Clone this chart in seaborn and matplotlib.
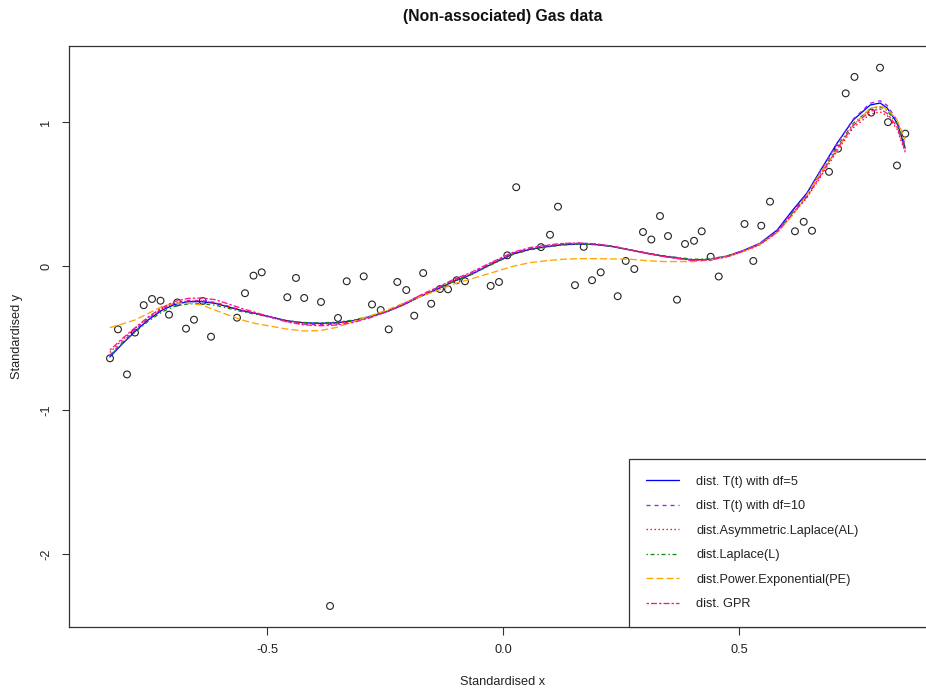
import matplotlib
matplotlib.use("Agg")
import matplotlib.pyplot as plt
import seaborn as sns
import numpy as np
import pandas as pd

# ---------------- data ----------------
obs_x = [-0.8326, -0.8157, -0.7966, -0.7797, -0.7612, -0.7436, -0.7256, -0.7076, -0.6900, -0.6716,
         -0.6547, -0.6362, -0.6186, -0.5636, -0.5466, -0.5286, -0.5112, -0.4570, -0.4386, -0.4212,
         -0.3856, -0.3665, -0.3496, -0.3311, -0.2951, -0.2775, -0.2591, -0.2422, -0.2239, -0.2049,
         -0.1881, -0.1691, -0.1521, -0.1335, -0.1165, -0.0981, -0.0805, -0.0261, -0.0085, 0.0091,
         0.0280, 0.0805, 0.0996, 0.1165, 0.1525, 0.1710, 0.1886, 0.2070, 0.2430, 0.2600,
         0.2782, 0.2966, 0.3142, 0.3326, 0.3496, 0.3686, 0.3856, 0.4047, 0.4210, 0.4400,
         0.4570, 0.5117, 0.5303, 0.5472, 0.5657, 0.6186, 0.6371, 0.6547, 0.6907, 0.7097,
         0.7261, 0.7447, 0.7801, 0.7987, 0.8157, 0.8347, 0.8523]
obs_y = [-0.641, -0.440, -0.753, -0.462, -0.272, -0.229, -0.241, -0.338, -0.253, -0.435,
         -0.373, -0.243, -0.491, -0.359, -0.189, -0.067, -0.044, -0.217, -0.083, -0.222,
         -0.250, -2.361, -0.361, -0.106, -0.072, -0.267, -0.306, -0.440, -0.111, -0.167,
         -0.345, -0.049, -0.262, -0.160, -0.162, -0.099, -0.106, -0.138, -0.111, 0.074,
         0.547, 0.131, 0.217, 0.412, -0.133, 0.133, -0.099, -0.044, -0.210, 0.035,
         -0.021, 0.236, 0.184, 0.347, 0.208, -0.234, 0.153, 0.175, 0.241, 0.064,
         -0.073, 0.292, 0.035, 0.280, 0.447, 0.241, 0.307, 0.245, 0.654, 0.815,
         1.199, 1.313, 1.065, 1.377, 0.999, 0.698, 0.919]

fit_x = [-0.833, -0.807, -0.780, -0.752, -0.722, -0.695, -0.667, -0.638, -0.610, -0.583,
         -0.553, -0.525, -0.494, -0.458, -0.424, -0.388, -0.352, -0.318, -0.282, -0.246,
         -0.212, -0.176, -0.140, -0.106, -0.070, -0.028, 0.021, 0.057, 0.093, 0.127,
         0.163, 0.199, 0.233, 0.269, 0.305, 0.339, 0.375, 0.403, 0.439, 0.475,
         0.508, 0.544, 0.581, 0.614, 0.644, 0.672, 0.708, 0.742, 0.778, 0.799,
         0.814, 0.835, 0.852]

fit_t5 = [-0.632, -0.542, -0.456, -0.375, -0.306, -0.266, -0.248, -0.248, -0.259, -0.283,
          -0.310, -0.329, -0.352, -0.380, -0.394, -0.398, -0.394, -0.380, -0.352, -0.317,
          -0.271, -0.213, -0.162, -0.109, -0.063, 0.007, 0.083, 0.116, 0.134, 0.148,
          0.153, 0.148, 0.134, 0.111, 0.088, 0.069, 0.053, 0.042, 0.046, 0.069,
          0.106, 0.157, 0.250, 0.389, 0.507, 0.660, 0.854, 1.014, 1.118, 1.132,
          1.097, 0.993, 0.819]
fit_t10 = [-0.620, -0.530, -0.445, -0.365, -0.298, -0.258, -0.240, -0.240, -0.253, -0.278,
           -0.307, -0.330, -0.356, -0.386, -0.403, -0.408, -0.403, -0.386, -0.354, -0.314,
           -0.265, -0.205, -0.152, -0.100, -0.053, 0.015, 0.090, 0.123, 0.142, 0.155,
           0.158, 0.152, 0.137, 0.113, 0.089, 0.069, 0.052, 0.041, 0.045, 0.068,
           0.105, 0.155, 0.245, 0.380, 0.500, 0.655, 0.850, 1.020, 1.130, 1.148,
           1.115, 1.010, 0.840]
fit_al = [-0.600, -0.515, -0.435, -0.360, -0.295, -0.258, -0.242, -0.243, -0.256, -0.281,
          -0.308, -0.328, -0.352, -0.382, -0.397, -0.402, -0.398, -0.383, -0.354, -0.317,
          -0.270, -0.212, -0.160, -0.106, -0.060, 0.010, 0.085, 0.118, 0.136, 0.150,
          0.155, 0.150, 0.136, 0.112, 0.088, 0.068, 0.051, 0.040, 0.043, 0.064,
          0.098, 0.147, 0.232, 0.360, 0.475, 0.615, 0.800, 0.960, 1.055, 1.070,
          1.045, 0.950, 0.790]
fit_l = [-0.625, -0.540, -0.460, -0.385, -0.318, -0.280, -0.263, -0.262, -0.272, -0.293,
         -0.317, -0.334, -0.355, -0.380, -0.392, -0.395, -0.390, -0.376, -0.349, -0.314,
         -0.269, -0.213, -0.163, -0.110, -0.064, 0.004, 0.080, 0.113, 0.132, 0.146,
         0.152, 0.148, 0.135, 0.113, 0.091, 0.072, 0.057, 0.047, 0.050, 0.070,
         0.104, 0.152, 0.240, 0.372, 0.490, 0.640, 0.830, 0.990, 1.090, 1.105,
         1.080, 0.985, 0.830]
fit_pe = [-0.428, -0.403, -0.375, -0.330, -0.281, -0.259, -0.259, -0.271, -0.306, -0.340,
          -0.375, -0.399, -0.417, -0.438, -0.451, -0.449, -0.426, -0.387, -0.347, -0.306,
          -0.259, -0.213, -0.172, -0.127, -0.092, -0.051, -0.002, 0.023, 0.037, 0.047,
          0.051, 0.051, 0.049, 0.047, 0.037, 0.031, 0.031, 0.030, 0.042, 0.065,
          0.099, 0.153, 0.233, 0.354, 0.493, 0.644, 0.806, 0.979, 1.095, 1.111,
          1.090, 1.014, 0.875]
fit_gpr = [-0.585, -0.505, -0.430, -0.355, -0.288, -0.245, -0.225, -0.222, -0.234, -0.262,
           -0.295, -0.322, -0.353, -0.388, -0.408, -0.415, -0.410, -0.393, -0.360, -0.318,
           -0.267, -0.204, -0.150, -0.095, -0.048, 0.020, 0.095, 0.128, 0.145, 0.157,
           0.160, 0.153, 0.137, 0.112, 0.087, 0.066, 0.049, 0.038, 0.042, 0.065,
           0.102, 0.150, 0.236, 0.365, 0.480, 0.625, 0.815, 0.975, 1.075, 1.090,
           1.060, 0.965, 0.800]

labels = ["dist. T(t) with df=5", "dist. T(t) with df=10", "dist.Asymmetric.Laplace(AL)",
          "dist.Laplace(L)", "dist.Power.Exponential(PE)", "dist. GPR"]
series = [fit_t5, fit_t10, fit_al, fit_l, fit_pe, fit_gpr]
colors = ["#0000FF", "#A020F0", "#FF0000", "#138A13", "#FFA500", "#FF1493"]
px = 0.72  # one pixel in points at 100 dpi
styles = ["-", (0, (4 * px, 4 * px)), (0, (1.4 * px, 2.6 * px)),
          (0, (1.4 * px, 2.6 * px, 4 * px, 3 * px)), (0, (7 * px, 3 * px)),
          (0, (2.5 * px, 2 * px, 6 * px, 2 * px))]

x_ticks = [-0.5, 0.0, 0.5]
y_ticks = [-2, -1, 0, 1]

# ---------------- figure ----------------
sns.set_theme(style="white")
plt.rcParams["font.family"] = ["Liberation Sans", "DejaVu Sans"]
plt.rcParams["lines.scale_dashes"] = False

FS = 9.2
W, H = 926, 692
fig = plt.figure(figsize=(W / 100, H / 100), dpi=100)
ax_l, ax_r, ax_t, ax_b = 69, 930, 46, 627
ax = fig.add_axes([ax_l / W, (H - ax_b) / H, (ax_r - ax_l) / W, (ax_b - ax_t) / H])

sns.scatterplot(x=obs_x, y=obs_y, ax=ax, marker="o", s=24, facecolor="none",
                edgecolor="#222222", linewidth=0.8, zorder=2, legend=False)

for ys, lab, c, ls in zip(series, labels, colors, styles):
    sns.lineplot(x=fit_x, y=ys, ax=ax, color=c, linestyle=ls, linewidth=0.95,
                 estimator=None, sort=False, label=lab, zorder=3)

ax.set_xlim((ax_l - 503) / 472, (ax_r - 503) / 472)
ax.set_ylim((266 - ax_b) / 144, (266 - ax_t) / 144)

ax.set_xticks(x_ticks)
ax.set_xticklabels(["-0.5", "0.0", "0.5"])
ax.set_yticks(y_ticks)
ax.set_yticklabels(["-2", "-1", "0", "1"])
ax.tick_params(axis="both", which="both", direction="out", length=5.4, width=0.8,
               color="#333333", labelsize=FS, labelcolor="#222222", pad=6.5,
               bottom=True, left=True)
ax.tick_params(axis="y", labelrotation=90)
for lab in ax.get_yticklabels():
    lab.set_va("center")

for s in ax.spines.values():
    s.set_color("#333333")
    s.set_linewidth(0.9)
ax.spines["right"].set_visible(False)

ax.set_xlabel("Standardised x", fontsize=FS, color="#222222")
ax.set_ylabel("Standardised y", fontsize=FS, color="#222222")
ax.xaxis.set_label_coords((503 - ax_l) / (ax_r - ax_l), -(682 - ax_b) / (ax_b - ax_t))
ax.xaxis.label.set_va("center")
ax.yaxis.set_label_coords(-(ax_l - 17) / (ax_r - ax_l), 0.5)
ax.yaxis.label.set_va("center")

fig.text(503 / W, 1 - 16 / H, "(Non-associated) Gas data", ha="center", va="center",
         fontsize=11.3, fontweight="bold", color="#111111")

leg_left = (629 - ax_l) / (ax_r - ax_l)
leg = ax.legend(loc="lower left", bbox_to_anchor=(leg_left, 0, 1 - leg_left + 0.01, 0.3),
                mode="expand", borderaxespad=0, fontsize=FS, handlelength=2.65,
                handletextpad=1.3, labelspacing=0.98, borderpad=1.3, frameon=True,
                fancybox=False, edgecolor="#333333", framealpha=1)
leg.get_frame().set_linewidth(0.9)
for t in leg.get_texts():
    t.set_color("#222222")

fig.savefig("out.png", dpi=100)
